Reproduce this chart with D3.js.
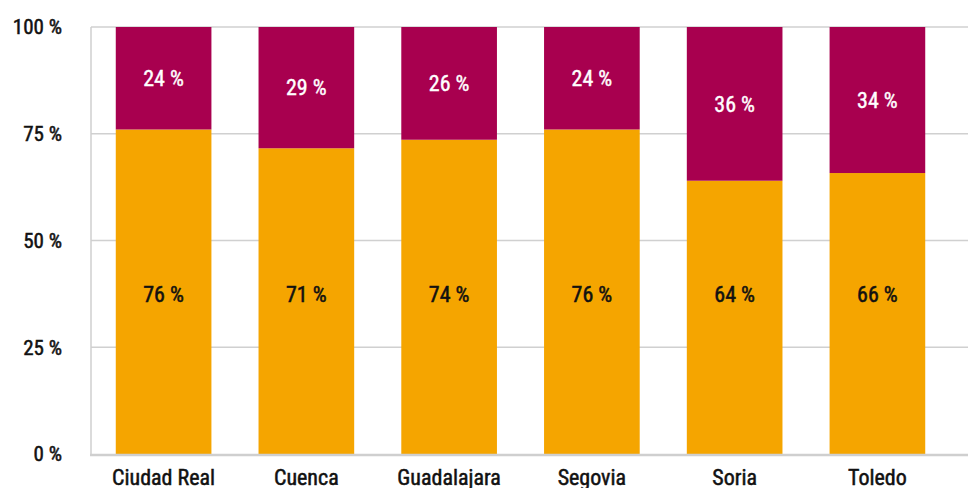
<!DOCTYPE html>
<html>
<head>
<meta charset="utf-8">
<script src="https://cdn.jsdelivr.net/npm/d3@7"></script>
<style>
  body { margin: 0; background: #fff; }
  text { font-family: "Roboto Condensed", "DejaVu Sans Condensed", "Liberation Sans Narrow", sans-serif; }
</style>
</head>
<body>
<div class="chart"></div>
<script>
const w = 968;
const h = 488;

// data
const provinces = ["Ciudad Real", "Cuenca", "Guadalajara", "Segovia", "Soria", "Toledo"];
const orangeShare = [76, 71.6, 73.6, 76, 64, 65.8];
const redShare = [24, 28.4, 26.4, 24, 36, 34.2];
const orangeLabels = ["76 %", "71 %", "74 %", "76 %", "64 %", "66 %"];
const redLabels = ["24 %", "29 %", "26 %", "24 %", "36 %", "34 %"];
const yTicks = [0, 25, 50, 75, 100];

const orange = "#f5a500";
const red = "#a8004f";

//create svg
const svg = d3.select(".chart").append("svg")
  .attr("width", w)
  .attr("height", h);

const x = d3.scaleBand()
  .domain(provinces)
  .range([91.5, 949.5])
  .paddingInner(0.33)
  .paddingOuter(0.17);

const y = d3.scaleLinear()
  .domain([0, 100])
  .range([454, 27]);

// gridlines
svg.append("g")
  .selectAll("line")
  .data(yTicks.filter(d => d > 0))
  .enter()
  .append("line")
  .attr("x1", 91)
  .attr("x2", w)
  .attr("y1", d => y(d))
  .attr("y2", d => y(d))
  .attr("stroke", "#d0d0d0")
  .attr("stroke-width", 1.5);

// left axis line
svg.append("line")
  .attr("x1", 91).attr("x2", 91)
  .attr("y1", y(100)).attr("y2", y(0))
  .attr("stroke", "#cfcfcf")
  .attr("stroke-width", 1.5);

// y labels
svg.append("g")
  .selectAll("text")
  .data(yTicks)
  .enter()
  .append("text")
  .attr("x", 62)
  .attr("y", d => y(d))
  .attr("dy", "0.35em")
  .attr("text-anchor", "end")
  .attr("font-size", 21)
  .attr("fill", "#111")
  .attr("stroke", "#111")
  .attr("stroke-width", 0.5)
  .text(d => d + " %");

const rows = provinces.map((p, i) => ({
  p: p, a: orangeShare[i], b: redShare[i], la: orangeLabels[i], lb: redLabels[i]
}));

// orange segments
svg.append("g")
  .selectAll("rect")
  .data(rows)
  .enter()
  .append("rect")
  .attr("x", d => x(d.p))
  .attr("width", x.bandwidth())
  .attr("y", d => y(d.a))
  .attr("height", d => y(0) - y(d.a))
  .attr("fill", orange);

// red segments
svg.append("g")
  .selectAll("rect")
  .data(rows)
  .enter()
  .append("rect")
  .attr("x", d => x(d.p))
  .attr("width", x.bandwidth())
  .attr("y", d => y(d.a + d.b))
  .attr("height", d => y(d.a) - y(d.a + d.b))
  .attr("fill", red);

// bottom axis line
svg.append("line")
  .attr("x1", 90).attr("x2", w)
  .attr("y1", y(0) + 1).attr("y2", y(0) + 1)
  .attr("stroke", "#cfcfcf")
  .attr("stroke-width", 2.5);

// orange labels, all at the same height
svg.append("g")
  .selectAll("text")
  .data(rows)
  .enter()
  .append("text")
  .attr("x", d => x(d.p) + x.bandwidth() / 2)
  .attr("y", y(37.5))
  .attr("dy", "0.35em")
  .attr("text-anchor", "middle")
  .attr("font-size", 22)
  .attr("fill", "#111")
  .attr("stroke", "#111")
  .attr("stroke-width", 0.5)
  .text(d => d.la);

// red labels, centred in segment
svg.append("g")
  .selectAll("text")
  .data(rows)
  .enter()
  .append("text")
  .attr("x", d => x(d.p) + x.bandwidth() / 2)
  .attr("y", d => (y(d.a) + y(d.a + d.b)) / 2)
  .attr("dy", "0.35em")
  .attr("text-anchor", "middle")
  .attr("font-size", 22)
  .attr("fill", "#fff")
  .attr("stroke", "#fff")
  .attr("stroke-width", 0.4)
  .text(d => d.lb);

// category labels
svg.append("g")
  .selectAll("text")
  .data(provinces)
  .enter()
  .append("text")
  .attr("x", d => x(d) + x.bandwidth() / 2)
  .attr("y", 485)
  .attr("text-anchor", "middle")
  .attr("font-size", 22)
  .attr("fill", "#111")
  .attr("stroke", "#111")
  .attr("stroke-width", 0.5)
  .text(d => d);
</script>
</body>
</html>
